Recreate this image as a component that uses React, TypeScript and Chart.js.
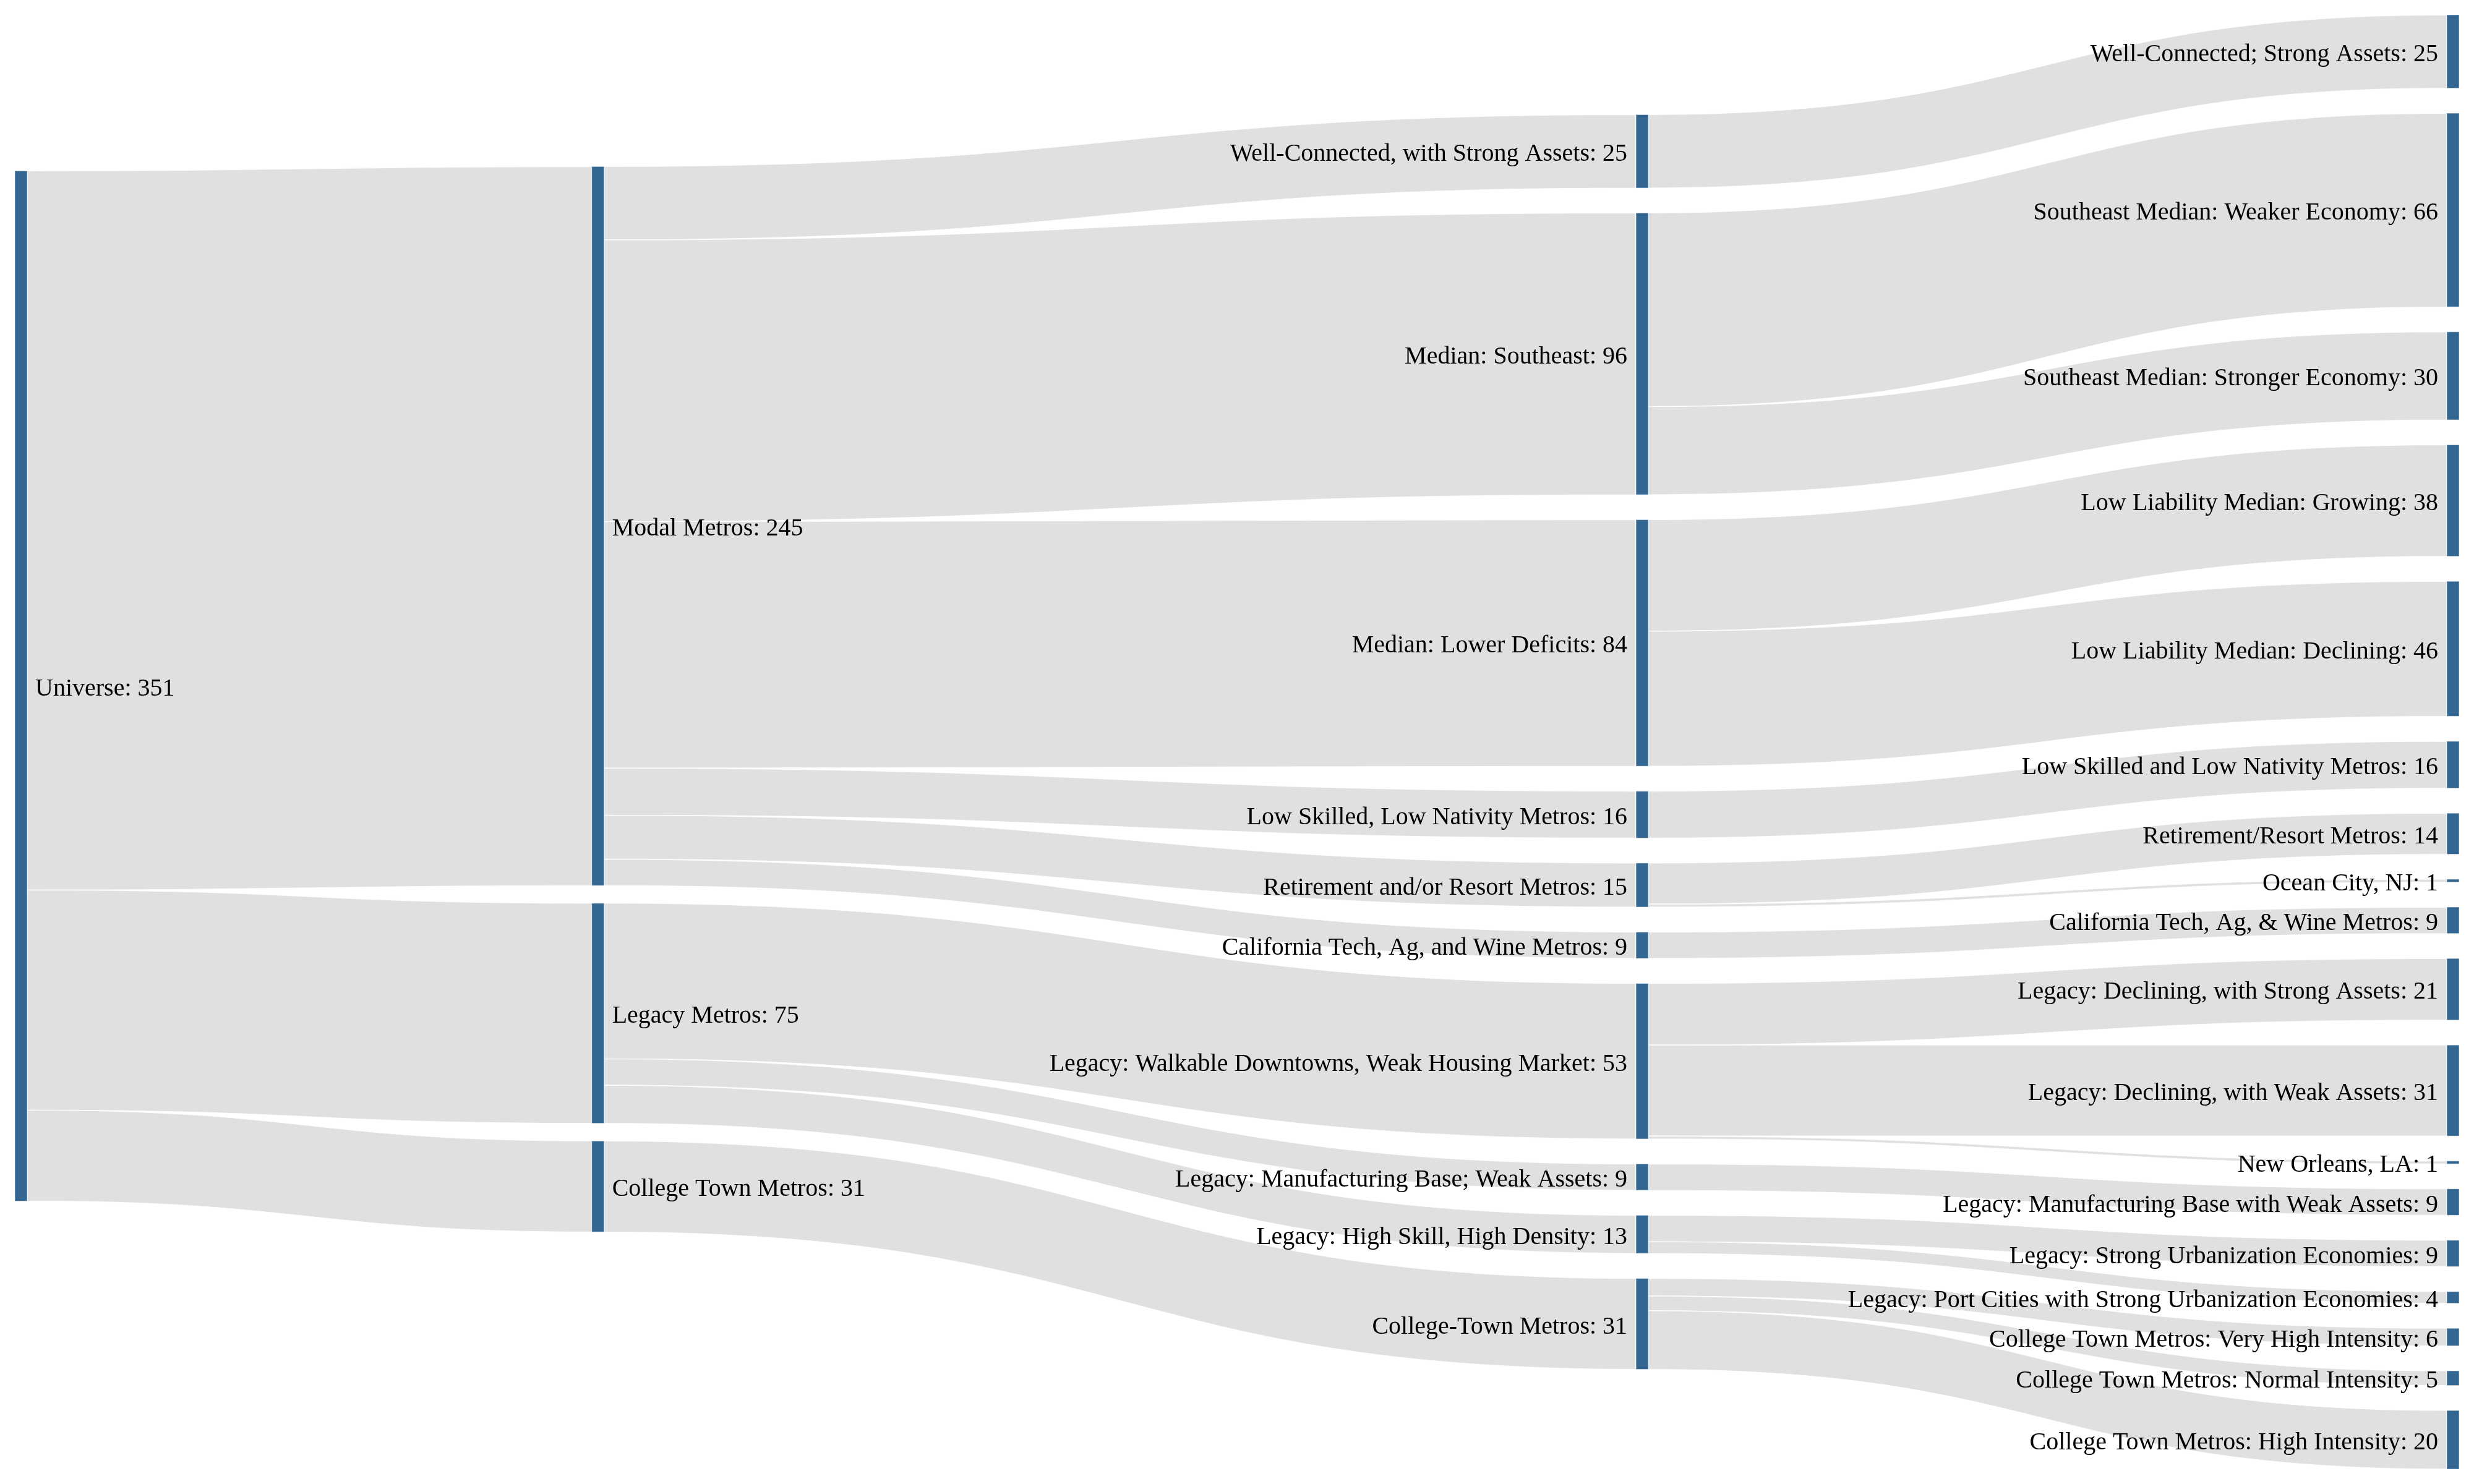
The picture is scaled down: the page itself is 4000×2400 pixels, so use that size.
import React, { useEffect, useRef } from "react";
import { Chart, registerables } from "chart.js";

Chart.register(...registerables);

// ---------------- DATA ----------------
const NODE_LABELS: string[] = [
  "Universe",
  "Modal Metros",
  "Legacy Metros",
  "College Town Metros",
  "Well-Connected, with Strong Assets",
  "Median: Southeast",
  "Median: Lower Deficits",
  "Low Skilled, Low Nativity Metros",
  "Retirement and/or Resort Metros",
  "California Tech, Ag, and Wine Metros",
  "Legacy: Walkable Downtowns, Weak Housing Market",
  "Legacy: Manufacturing Base; Weak Assets",
  "Legacy: High Skill, High Density",
  "College-Town Metros",
  "Well-Connected; Strong Assets",
  "Southeast Median: Weaker Economy",
  "Southeast Median: Stronger Economy",
  "Low Liability Median: Growing",
  "Low Liability Median: Declining",
  "Low Skilled and Low Nativity Metros",
  "Retirement/Resort Metros",
  "Ocean City, NJ",
  "California Tech, Ag, & Wine Metros",
  "Legacy: Declining, with Strong Assets",
  "Legacy: Declining, with Weak Assets",
  "New Orleans, LA",
  "Legacy: Manufacturing Base with Weak Assets",
  "Legacy: Strong Urbanization Economies",
  "Legacy: Port Cities with Strong Urbanization Economies",
  "College Town Metros: Very High Intensity",
  "College Town Metros: Normal Intensity",
  "College Town Metros: High Intensity",
];

const LINK_SOURCE: string[] = [
  "Universe", "Universe", "Universe",
  "Modal Metros", "Modal Metros", "Modal Metros", "Modal Metros", "Modal Metros", "Modal Metros",
  "Legacy Metros", "Legacy Metros", "Legacy Metros",
  "College Town Metros",
  "Well-Connected, with Strong Assets",
  "Median: Southeast", "Median: Southeast",
  "Median: Lower Deficits", "Median: Lower Deficits",
  "Low Skilled, Low Nativity Metros",
  "Retirement and/or Resort Metros", "Retirement and/or Resort Metros",
  "California Tech, Ag, and Wine Metros",
  "Legacy: Walkable Downtowns, Weak Housing Market", "Legacy: Walkable Downtowns, Weak Housing Market", "Legacy: Walkable Downtowns, Weak Housing Market",
  "Legacy: Manufacturing Base; Weak Assets",
  "Legacy: High Skill, High Density", "Legacy: High Skill, High Density",
  "College-Town Metros", "College-Town Metros", "College-Town Metros",
];

const LINK_TARGET: string[] = [
  "Modal Metros", "Legacy Metros", "College Town Metros",
  "Well-Connected, with Strong Assets", "Median: Southeast", "Median: Lower Deficits",
  "Low Skilled, Low Nativity Metros", "Retirement and/or Resort Metros", "California Tech, Ag, and Wine Metros",
  "Legacy: Walkable Downtowns, Weak Housing Market", "Legacy: Manufacturing Base; Weak Assets", "Legacy: High Skill, High Density",
  "College-Town Metros",
  "Well-Connected; Strong Assets",
  "Southeast Median: Weaker Economy", "Southeast Median: Stronger Economy",
  "Low Liability Median: Growing", "Low Liability Median: Declining",
  "Low Skilled and Low Nativity Metros",
  "Retirement/Resort Metros", "Ocean City, NJ",
  "California Tech, Ag, & Wine Metros",
  "Legacy: Declining, with Strong Assets", "Legacy: Declining, with Weak Assets", "New Orleans, LA",
  "Legacy: Manufacturing Base with Weak Assets",
  "Legacy: Strong Urbanization Economies", "Legacy: Port Cities with Strong Urbanization Economies",
  "College Town Metros: Very High Intensity", "College Town Metros: Normal Intensity", "College Town Metros: High Intensity",
];

const LINK_VALUE: number[] = [
  245, 75, 31,
  25, 96, 84, 16, 15, 9,
  53, 9, 13,
  31,
  25,
  66, 30,
  38, 46,
  16,
  14, 1,
  9,
  21, 31, 1,
  9,
  9, 4,
  6, 5, 20,
];

// ---------------- LAYOUT / STYLE ----------------
// horizontal position of each column (fraction of the span)
const COLUMN_X: number[] = [0, 0.2372, 0.6666, 1];
// vertical alignment of each column's stack in the free space (0 = top, 0.5 = centred)
const COLUMN_ALIGN: number[] = [0.368, 0.39, 0.5, 0.5];
// gap between nodes of a column, in value units
const COLUMN_PAD: number[] = [8.5, 6, 8.5, 8.5];
const NODE_WIDTH = 20;
const NODE_COLOR = "rgb(51,103,145)";
const LINK_COLOR = "#e0e0e0";
const FONT = '40px "Liberation Serif", "Times New Roman", serif';

// ---------------- SANKEY LAYOUT ----------------
type SNode = {
  name: string; index: number; sourceLinks: SLink[]; targetLinks: SLink[];
  value: number; depth: number; y0: number; y1: number;
};
type SLink = { source: SNode; target: SNode; value: number; width: number; y0: number; y1: number };

function computeSankey() {
  const idx: Record<string, number> = {};
  NODE_LABELS.forEach((n, i) => (idx[n] = i));
  const nodes: SNode[] = NODE_LABELS.map((name, index) => ({
    name, index, sourceLinks: [], targetLinks: [], value: 0, depth: 0, y0: 0, y1: 0,
  }));
  const links: SLink[] = LINK_SOURCE.map((s, i) => ({
    source: nodes[idx[s]], target: nodes[idx[LINK_TARGET[i]]], value: LINK_VALUE[i], width: 0, y0: 0, y1: 0,
  }));
  links.forEach((l) => { l.source.sourceLinks.push(l); l.target.targetLinks.push(l); });
  const sum = (a: SLink[]) => a.reduce((s, l) => s + l.value, 0);
  nodes.forEach((n) => (n.value = Math.max(sum(n.sourceLinks), sum(n.targetLinks))));

  // depths (breadth-first from the sources)
  let current = nodes.slice();
  let d = 0;
  while (current.length) {
    const next: SNode[] = [];
    current.forEach((n) => {
      n.depth = d;
      n.sourceLinks.forEach((l) => { if (next.indexOf(l.target) < 0) next.push(l.target); });
    });
    current = next;
    d++;
  }
  const maxDepth = Math.max(...nodes.map((n) => n.depth));
  nodes.forEach((n) => { if (!n.sourceLinks.length) n.depth = maxDepth; });

  const columns: SNode[][] = [];
  nodes.forEach((n) => { (columns[n.depth] = columns[n.depth] || []).push(n); });

  const colSize = (c: SNode[], i: number) =>
    c.reduce((s, n) => s + n.value, 0) + (c.length - 1) * COLUMN_PAD[i];
  const extent = Math.max(...columns.map((c, i) => colSize(c, i)));

  columns.forEach((c, i) => {
    let y = (extent - colSize(c, i)) * COLUMN_ALIGN[i];
    c.forEach((n) => {
      n.y0 = y;
      n.y1 = y + n.value;
      y = n.y1 + COLUMN_PAD[i];
    });
  });
  links.forEach((l) => (l.width = l.value));

  nodes.forEach((n) => {
    n.sourceLinks.sort((a, b) => a.target.y0 - b.target.y0);
    n.targetLinks.sort((a, b) => a.source.y0 - b.source.y0);
  });
  nodes.forEach((n) => {
    let y0 = n.y0, y1 = n.y0;
    n.sourceLinks.forEach((l) => { l.y0 = y0 + l.width / 2; y0 += l.width; });
    n.targetLinks.forEach((l) => { l.y1 = y1 + l.width / 2; y1 += l.width; });
  });

  return { nodes, links, extent, maxDepth };
}

export default function App() {
  const canvasRef = useRef<HTMLCanvasElement | null>(null);

  useEffect(() => {
    const canvas = canvasRef.current;
    if (!canvas) return;
    const graph = computeSankey();

    const sankeyPlugin = {
      id: "sankeyDraw",
      afterDraw(chart: any) {
        const { ctx } = chart;
        const xs = chart.scales.x;
        const ys = chart.scales.y;
        const colLeft = (depth: number) => xs.getPixelForValue(COLUMN_X[depth]);
        ctx.save();
        // links
        graph.links.forEach((l) => {
          const x0 = colLeft(l.source.depth) + NODE_WIDTH;
          const x1 = colLeft(l.target.depth);
          const xm = x0 + (x1 - x0) * 0.5;
          const y0a = ys.getPixelForValue(l.y0 - l.width / 2);
          const y0b = ys.getPixelForValue(l.y0 + l.width / 2);
          const y1a = ys.getPixelForValue(l.y1 - l.width / 2);
          const y1b = ys.getPixelForValue(l.y1 + l.width / 2);
          ctx.beginPath();
          ctx.moveTo(x0, y0a);
          ctx.bezierCurveTo(xm, y0a, xm, y1a, x1, y1a);
          ctx.lineTo(x1, y1b);
          ctx.bezierCurveTo(xm, y1b, xm, y0b, x0, y0b);
          ctx.closePath();
          ctx.fillStyle = LINK_COLOR;
          ctx.fill();
          ctx.lineWidth = 1.3;
          ctx.strokeStyle = "rgba(255,255,255,0.9)";
          ctx.stroke();
        });
        // nodes
        graph.nodes.forEach((n) => {
          const x = colLeft(n.depth);
          const yt = ys.getPixelForValue(n.y0);
          const yb = ys.getPixelForValue(n.y1);
          ctx.fillStyle = NODE_COLOR;
          ctx.fillRect(x, yt, NODE_WIDTH, yb - yt);
          ctx.lineWidth = 1.2;
          ctx.strokeStyle = "rgba(255,255,255,0.5)";
          ctx.strokeRect(x, yt, NODE_WIDTH, yb - yt);
        });
        // labels
        ctx.font = FONT;
        ctx.fillStyle = "#000";
        ctx.textBaseline = "middle";
        const mid = (chart.chartArea.left + chart.chartArea.right) / 2;
        graph.nodes.forEach((n) => {
          const x = colLeft(n.depth);
          const yc = ys.getPixelForValue((n.y0 + n.y1) / 2);
          const text = `${n.name}: ${n.value}`;
          if (x + NODE_WIDTH / 2 < mid) {
            ctx.textAlign = "left";
            ctx.fillText(text, x + NODE_WIDTH + 13, yc + 5);
          } else {
            ctx.textAlign = "right";
            ctx.fillText(text, x - 14, yc + 5);
          }
        });
        ctx.restore();
      },
    };

    const chart = new Chart(canvas, {
      type: "scatter",
      data: { datasets: [] },
      options: {
        animation: false,
        responsive: false,
        devicePixelRatio: 1,
        layout: { padding: { left: 24, right: 24 + NODE_WIDTH, top: 24, bottom: 24 } },
        plugins: { legend: { display: false }, tooltip: { enabled: false } },
        scales: {
          x: { type: "linear", min: 0, max: 1, display: false },
          y: { type: "linear", min: 0, max: graph.extent, reverse: true, display: false },
        },
      },
      plugins: [sankeyPlugin],
    });
    return () => chart.destroy();
  }, []);

  return (
    <div style={{ position: "absolute", left: 0, top: 0, width: 4000, height: 2400, background: "#fff" }}>
      <canvas ref={canvasRef} width={4000} height={2400} style={{ width: 4000, height: 2400 }} />
    </div>
  );
}
